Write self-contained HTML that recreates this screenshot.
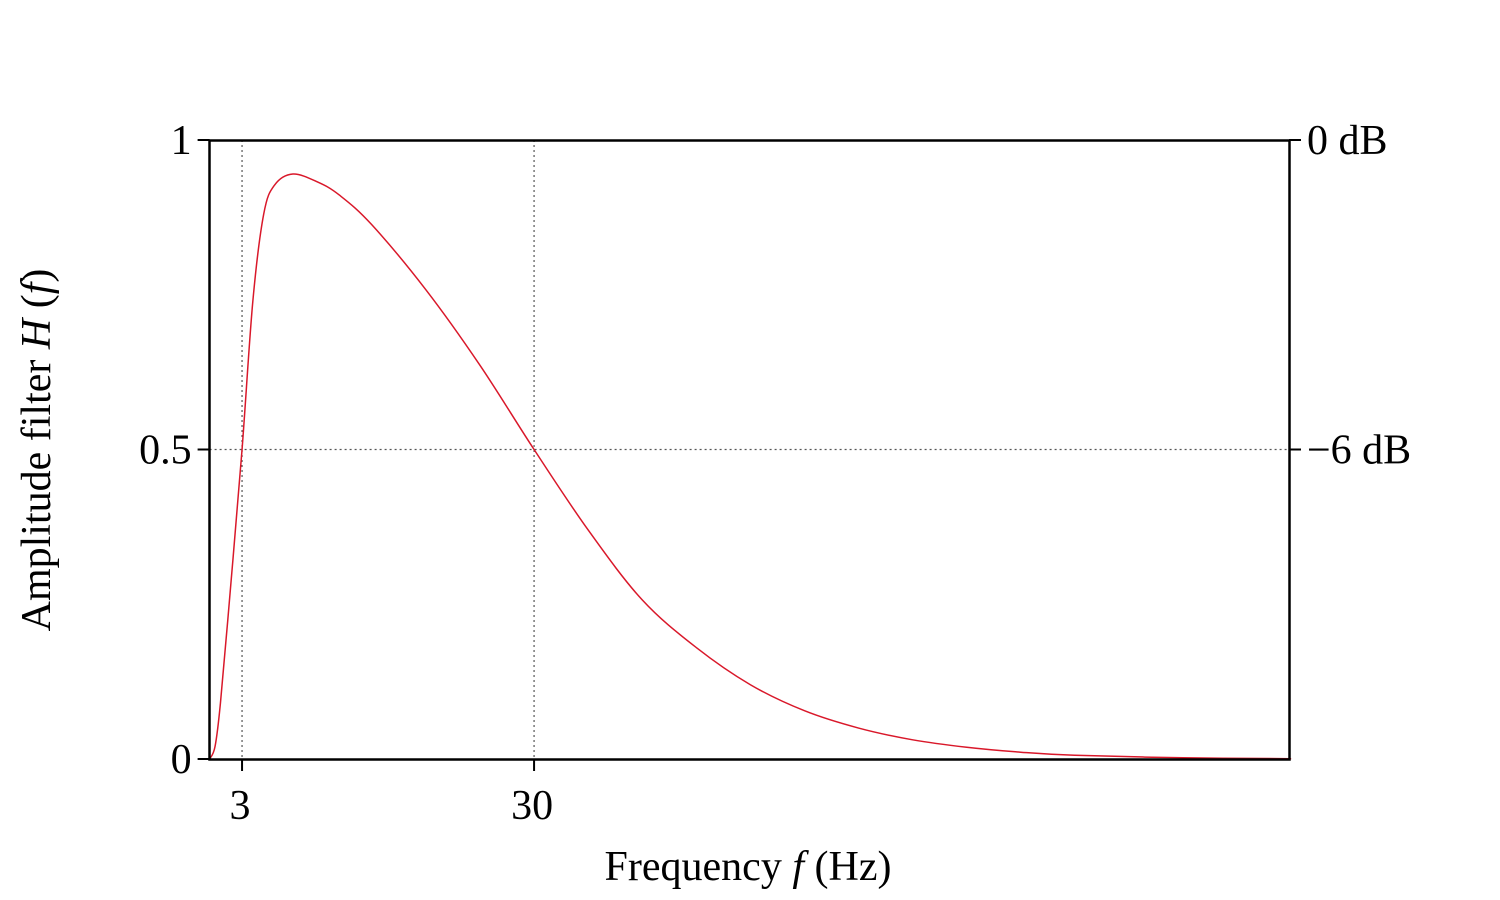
<!DOCTYPE html>
<html><head><meta charset="utf-8"><style>
html,body{margin:0;padding:0;background:#fff;}
svg{display:block;font-family:"Liberation Serif",serif;}
</style></head><body>
<svg id="chart" width="1500" height="900">
<g id="grid"></g>
<path id="curve" fill="none" stroke="#d9182a" stroke-width="1.5"/>
<rect x="209.5" y="140.5" width="1080" height="619" fill="none" stroke="#000" stroke-width="2.5"/>
<g id="ticks"></g>
<text x="748" y="880" font-size="42" text-anchor="middle">Frequency <tspan font-style="italic">f</tspan> (Hz)</text>
<text transform="translate(50,450) rotate(-90)" font-size="42" text-anchor="middle">Amplitude filter <tspan font-style="italic">H</tspan> (<tspan font-style="italic">f</tspan>)</text>
</svg>
<script>
const freqs=[0,0.5,1,2,3,4,5,6,7.7,10,12,15,20,25,30,35,40,45,50,55,60,65,70,75,80,90,100];
const amps=[0,0.02,0.09,0.29,0.5,0.74,0.88,0.927,0.945,0.932,0.911,0.863,0.758,0.636,0.5,0.37,0.257,0.18,0.12,0.078,0.05,0.031,0.019,0.011,0.006,0.002,0.0005];
const xTicks=[3,30];
const yTicks=[0,0.5,1];
const yTickLabels=["0","0.5","1"];
const rightTicks=[1,0.5];
const rightLabels=["0 dB","\u22126 dB"];
const X0=209.6,X1=1289,Y0=759,Y1=140,FMAX=99.8;
const sx=f=>X0+(X1-X0)*f/FMAX;
const sy=v=>Y0+(Y1-Y0)*v;
const NS="http://www.w3.org/2000/svg";
const pts=freqs.map((f,i)=>[sx(f),sy(amps[i])]);
let d="M"+pts[0][0]+","+pts[0][1];
for(let i=0;i<pts.length-1;i++){
 const p0=pts[Math.max(0,i-1)],p1=pts[i],p2=pts[i+1],p3=pts[Math.min(pts.length-1,i+2)];
 const c1=[p1[0]+(p2[0]-p0[0])/6,p1[1]+(p2[1]-p0[1])/6];
 const c2=[p2[0]-(p3[0]-p1[0])/6,p2[1]-(p3[1]-p1[1])/6];
 d+=` C${c1[0]},${c1[1]} ${c2[0]},${c2[1]} ${p2[0]},${p2[1]}`;
}
document.getElementById('curve').setAttribute('d',d);
const grid=document.getElementById('grid'),ticks=document.getElementById('ticks');
function line(parent,x1,y1,x2,y2,dash,w){const l=document.createElementNS(NS,'line');
l.setAttribute('x1',x1);l.setAttribute('y1',y1);l.setAttribute('x2',x2);l.setAttribute('y2',y2);
l.setAttribute('stroke',dash?'#555':'#000');l.setAttribute('stroke-width',w);if(dash)l.setAttribute('stroke-dasharray','2,3');
parent.appendChild(l);return l;}
function text(x,y,s,anchor){const t=document.createElementNS(NS,'text');t.setAttribute('x',x);t.setAttribute('y',y);
t.setAttribute('font-size','42');t.setAttribute('text-anchor',anchor);t.textContent=s;ticks.appendChild(t);return t;}
xTicks.forEach(f=>{
 const g=line(grid,sx(f),Y1,sx(f),Y0,true,1.2);
 
 
 const tk=line(ticks,sx(f),Y0,sx(f),Y0+12,false,2);
 
 
 const t=text(sx(f)-2,Y0+60,String(f),'middle');
 
 
});
const hg=line(grid,X0,sy(0.5),X1,sy(0.5),true,1.2);


yTicks.forEach((v,i)=>{
 const tk=line(ticks,X0-12,sy(v),X0,sy(v),false,2);
 
 
 const t=text(X0-18,sy(v)+14,yTickLabels[i],'end');
 
 
});
rightTicks.forEach((v,i)=>{
 const tk=line(ticks,X1,sy(v),X1+12,sy(v),false,2);
 
 
 const t=text(X1+18,sy(v)+14,rightLabels[i],'start');
 
 
});
</script>
</body></html>
